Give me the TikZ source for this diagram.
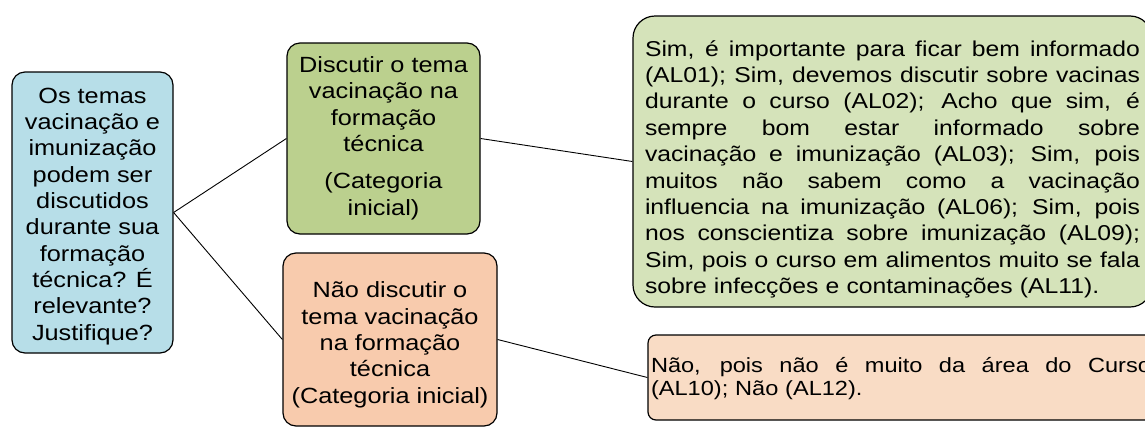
\documentclass[tikz,border=0pt]{standalone}
\usepackage{fontspec}
\setmainfont{Liberation Sans}[FakeStretch=1.15]
\usetikzlibrary{positioning}
\definecolor{cquest}{HTML}{B7DEE8}
\definecolor{csim}{HTML}{BBD08E}
\definecolor{csimr}{HTML}{D5E3BA}
\definecolor{cnao}{HTML}{F8CBAD}
\definecolor{cnaor}{HTML}{F9DCC5}
\setlength{\parindent}{0pt}
% one justified line of a fixed width
\newcommand{\jline}[2][495pt]{{\spaceskip=0pt\xspaceskip=0pt\makebox[#1][s]{#2}}}

\begin{document}
\begin{tikzpicture}[
  x=1pt, y=-1pt,
  font=\fontsize{22}{26.3}\selectfont,
  box/.style={draw, line width=1.2pt, rounded corners=13pt, align=center,
              inner sep=4pt},
  resp/.style={draw, line width=1.2pt, align=left, inner ysep=4pt},
  textbox/.style={text height=#1, text depth=5pt},
  firstline/.style={text height=20pt, text depth=#1},
  link/.style={line width=0.9pt},
  ]
\useasboundingbox (0,0) rectangle (1145,429);
\clip (0,0) rectangle (1145,429);
\node[box, fill=cquest, minimum width=161pt, minimum height=281pt,
      textbox=260pt] (quest) at (92.5,212.5) {
  Os temas\\ vacinação e\\ imunização\\ podem ser\\ discutidos\\
  durante sua\\ formação\\ técnica? É\\ relevante?\\ Justifique?
};
\node[box, fill=csim, minimum width=193pt, minimum height=191pt,
      textbox=158pt] (sim) at (383.5,138.5) {
  Discutir o tema\\ vacinação na\\ formação\\ técnica\\[11pt]
  (Categoria\\ inicial)
};
\node[box, fill=cnao, minimum width=214pt, minimum height=173pt,
      textbox=132pt] (nao) at (390,339.5) {
  Não discutir o\\ tema vacinação\\ na formação\\ técnica\\
  (Categoria inicial)
};
\node[resp, fill=csimr, rounded corners=22pt, text width=495pt, inner xsep=12pt,
      minimum height=291pt, firstline=231pt,
      font=\fontsize{21.5}{26.4}\selectfont] (simresp) at (892.5,161.5) {
  \jline{Sim, é importante para ficar bem informado}\\
  \jline{(AL01); Sim, devemos discutir sobre vacinas}\\
  \jline{durante o curso (AL02); Acho que sim, é}\\
  \jline{sempre bom estar informado sobre}\\
  \jline{vacinação e imunização (AL03); Sim, pois}\\
  \jline{muitos não sabem como a vacinação}\\
  \jline{influencia na imunização (AL06); Sim, pois}\\
  \jline{nos conscientiza sobre imunização (AL09);}\\
  \jline{Sim, pois o curso em alimentos muito se fala}\\
  sobre infecções e contaminações (AL11).
};
\node[resp, fill=cnaor, rounded corners=8pt, text width=500pt, inner xsep=3pt,
      minimum height=85pt, firstline=30pt,
      font=\fontsize{20.5}{23}\selectfont] (naoresp) at (901,377.5) {
  \jline[500pt]{Não, pois não é muito da área do Curso}\\
  (AL10); Não (AL12).
};
\draw[link] (quest.east) -- (sim.west);
\draw[link] (quest.east) -- (nao.west);
\draw[link] (sim.east) -- (simresp.west);
\draw[link] (nao.east) -- (naoresp.west);
\end{tikzpicture}
\end{document}
